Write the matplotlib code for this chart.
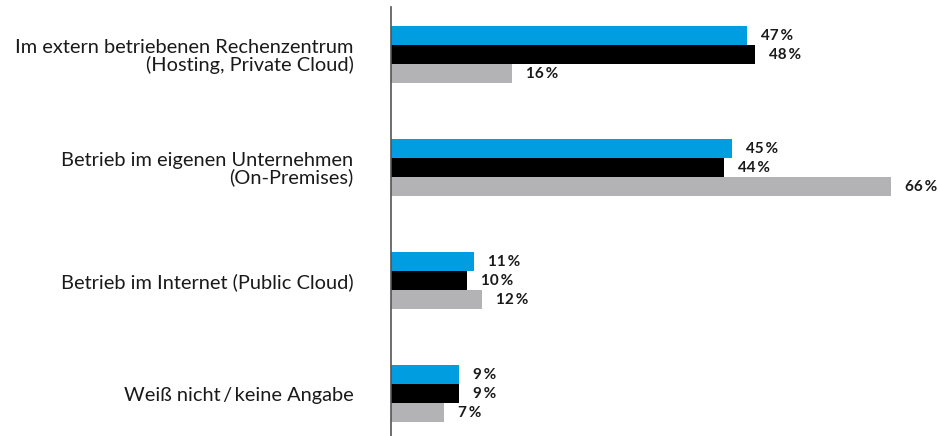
import matplotlib.pyplot as plt
import numpy as np

categories = [
    "Im extern betriebenen Rechenzentrum\n(Hosting, Private Cloud)",
    "Betrieb im eigenen Unternehmen\n(On-Premises)",
    "Betrieb im Internet (Public Cloud)",
    "Weiß nicht\u2009/\u2009keine Angabe",
]
series_blue = [47, 45, 11, 9]
series_black = [48, 44, 10, 9]
series_gray = [16, 66, 12, 7]

colors = ["#009ee0", "#000000", "#b3b3b5"]

plt.rcParams["font.family"] = ["Lato", "DejaVu Sans"]

W, H = 938, 436
fig = plt.figure(figsize=(W / 100, H / 100), dpi=100)
x0 = 391
ax = fig.add_axes([x0 / W, 0, (W - x0) / W, 1 - 7 / H])

px_per_unit = 500 / 66
ax.set_xlim(0, (W - x0) / px_per_unit)
ax.set_ylim(3 + 42 / 113, -47.5 / 113)

y = np.arange(len(categories))
h = 19 / 113
for i, (vals, c) in enumerate(zip([series_blue, series_black, series_gray], colors)):
    pos = y + (i - 1) * h
    ax.barh(pos, vals, height=h, color=c, linewidth=0)
    for p, v in zip(pos, vals):
        ax.text(v + 14 / px_per_unit, p, f"{v}\u2009%", va="center", ha="left",
                fontsize=11, fontweight="bold", color="#1a1a1a")

ax.set_yticks(y)
ax.set_yticklabels(categories, fontsize=14.4, color="#1a1a1a", linespacing=1.0)
for t in ax.get_yticklabels():
    t.set_horizontalalignment("right")
ax.tick_params(axis="y", length=0, pad=27)
ax.set_xticks([])
for s in ["top", "right", "bottom"]:
    ax.spines[s].set_visible(False)
ax.spines["left"].set_color("#555555")
ax.spines["left"].set_linewidth(1.2)

fig.savefig("out.png", dpi=100)
